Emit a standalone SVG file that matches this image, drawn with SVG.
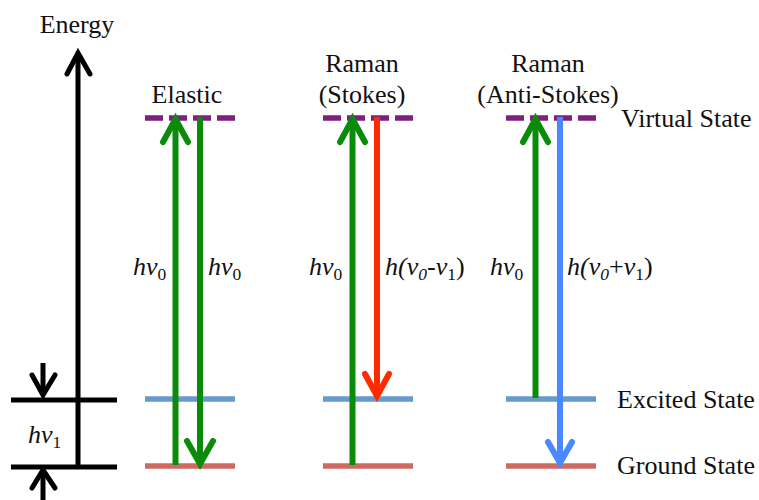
<svg xmlns="http://www.w3.org/2000/svg" width="759" height="500" viewBox="0 0 759 500" font-family="'Liberation Serif', Tinos, 'Times New Roman', Times, serif">
<style>
text{font-family:'Liberation Serif',Tinos,'Times New Roman',Times,serif;font-size:26px;fill:#111}
.it{font-style:italic}
.sub{font-size:17.5px}
.blk{stroke:#000;stroke-width:5;fill:none}
.ah{fill:none;stroke-width:6;stroke-linecap:round;stroke-linejoin:miter}
.shaft{fill:none;stroke-width:6}
.g{stroke:#0A8C0A}
.r{stroke:#FF2B00}
.b{stroke:#4A88FF}
.virt{stroke:#7E1F7E;stroke-width:5.5;stroke-dasharray:18 6;fill:none}
.exc{stroke:#6699CC;stroke-width:5.5;fill:none}
.gnd{stroke:#CF6A62;stroke-width:5.5;fill:none}
</style>
<rect width="759" height="500" fill="#fff"/>

<g id="energy-axis">
<text x="77" y="33" text-anchor="middle">Energy</text>
<line class="blk" x1="78" y1="54" x2="78" y2="467"/>
<polyline class="blk" points="67,74 78,53 90,74" stroke-linecap="round"/>
<line class="blk" x1="11" y1="400" x2="117" y2="400"/>
<line class="blk" x1="11" y1="467" x2="117" y2="467"/>
<line class="blk" x1="43" y1="363" x2="43" y2="393"/>
<polyline class="blk" points="32,375 43,395 55,375" stroke-linecap="round"/>
<line class="blk" x1="43" y1="473" x2="43" y2="500"/>
<polyline class="blk" points="32,488 43,470 55,488" stroke-linecap="round"/>
<text x="28" y="443"><tspan class="it">hv</tspan><tspan class="sub" dy="5">1</tspan></text>
</g>

<g id="state-labels">
<text x="621" y="127">Virtual State</text>
<text x="617" y="408">Excited State</text>
<text x="617" y="474">Ground State</text>
</g>

<g id="elastic">
<text x="187" y="103" text-anchor="middle">Elastic</text>
<line class="virt" x1="145" y1="118" x2="235" y2="118"/>
<line class="exc" x1="145" y1="399" x2="235" y2="399"/>
<line class="gnd" x1="145" y1="466" x2="235" y2="466"/>
</g>

<g id="stokes">
<text x="362" y="72" text-anchor="middle">Raman</text>
<text x="362" y="103" text-anchor="middle">(Stokes)</text>
<line class="virt" x1="323" y1="118" x2="413" y2="118"/>
<line class="exc" x1="323" y1="399" x2="413" y2="399"/>
<line class="gnd" x1="323" y1="466" x2="413" y2="466"/>
</g>

<g id="anti-stokes">
<text x="548" y="72" text-anchor="middle">Raman</text>
<text x="548" y="103" text-anchor="middle">(Anti-Stokes)</text>
<line class="virt" x1="506" y1="118" x2="596" y2="118"/>
<line class="exc" x1="506" y1="399" x2="596" y2="399"/>
<line class="gnd" x1="506" y1="466" x2="596" y2="466"/>
</g>

<g id="connectors">
<line class="shaft g" x1="175.5" y1="465" x2="175.5" y2="122"/>
<polyline class="ah g" points="163,142 175.5,119 188,142"/>
<line class="shaft g" x1="200" y1="117" x2="200" y2="461"/>
<polyline class="ah g" points="187,441 200,464 213,441"/>
<line class="shaft g" x1="352.5" y1="465" x2="352.5" y2="122"/>
<polyline class="ah g" points="340,142 352.5,119 365,142"/>
<line class="shaft r" x1="377" y1="117" x2="377" y2="393"/>
<polyline class="ah r" points="365,374 377,396 389,374"/>
<line class="shaft g" x1="535.5" y1="398" x2="535.5" y2="122"/>
<polyline class="ah g" points="523,142 535.5,119 548,142"/>
<line class="shaft b" x1="560" y1="117" x2="560" y2="460"/>
<polyline class="ah b" points="548,442 560,463 572,442"/>
</g>

<g id="photon-labels">
<text x="133" y="275"><tspan class="it">hv</tspan><tspan class="sub" dy="5">0</tspan></text>
<text x="208" y="275"><tspan class="it">hv</tspan><tspan class="sub" dy="5">0</tspan></text>
<text x="309" y="275"><tspan class="it">hv</tspan><tspan class="sub" dy="5">0</tspan></text>
<text x="385" y="275"><tspan class="it">h(v</tspan><tspan class="sub it" dy="5">0</tspan><tspan dy="-5">-</tspan><tspan class="it">v</tspan><tspan class="sub" dy="5">1</tspan><tspan dy="-5">)</tspan></text>
<text x="490" y="275"><tspan class="it">hv</tspan><tspan class="sub" dy="5">0</tspan></text>
<text x="567" y="275"><tspan class="it">h(v</tspan><tspan class="sub it" dy="5">0</tspan><tspan dy="-5">+</tspan><tspan class="it">v</tspan><tspan class="sub" dy="5">1</tspan><tspan dy="-5">)</tspan></text>
</g>
</svg>
